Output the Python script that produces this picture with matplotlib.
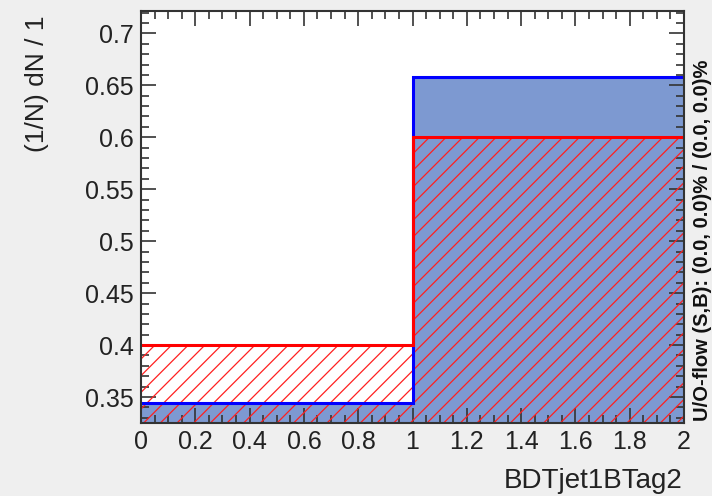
import matplotlib
matplotlib.use("Agg")
import matplotlib.pyplot as plt
from matplotlib.ticker import MultipleLocator

# histogram bins and normalised contents
bin_edges = [0.0, 1.0, 2.0]
signal = [0.344, 0.658]
background = [0.400, 0.600]

x_label = "BDTjet1BTag2"
y_label = "(1/N) dN / 1"
overflow_text = "U/O-flow (S,B): (0.0, 0.0)% / (0.0, 0.0)%"

plt.rcParams['font.family'] = ['Liberation Sans', 'DejaVu Sans']
plt.rcParams['hatch.linewidth'] = 0.9
plt.rcParams['hatch.color'] = '#ff2020'

fig = plt.figure(figsize=(7.12, 4.96), dpi=100, facecolor='#efefef')
ax = fig.add_axes([141 / 712, 1 - 423 / 496, (684 - 141) / 712, (423 - 11) / 496])
ax.set_facecolor('white')

# signal: filled blue
ax.stairs(signal, bin_edges, fill=True, color='#7d99d1', zorder=1)
# background: red hatch
ax.stairs(background, bin_edges, fill=True, facecolor='none', edgecolor='#ff2020',
          hatch='//', linewidth=0, zorder=2)
# outlines
ax.stairs(signal, bin_edges, baseline=None, color='blue', linewidth=2.2, zorder=3)
ax.stairs(background, bin_edges, baseline=None, color='red', linewidth=2.2, zorder=4)

ax.set_xlim(0, 2)
ax.set_ylim(0.325, 0.7215)

ax.xaxis.set_major_locator(MultipleLocator(0.2))
ax.xaxis.set_minor_locator(MultipleLocator(0.05))
ax.yaxis.set_major_locator(MultipleLocator(0.05))
ax.yaxis.set_minor_locator(MultipleLocator(0.01))
ax.xaxis.set_major_formatter(plt.FuncFormatter(lambda v, p: f"{v:g}"))
ax.yaxis.set_major_formatter(plt.FuncFormatter(lambda v, p: f"{v:g}"))

ax.tick_params(which='both', direction='in', top=True, right=True,
               color='#333333', labelcolor='#222222', labelsize=18, width=1.2)
ax.tick_params(which='major', length=10.5, pad=5)
ax.tick_params(which='minor', length=6)
for s in ax.spines.values():
    s.set_linewidth(1.5)
    s.set_color('#333333')
    s.set_zorder(5)

fig.text(683 / 712, 1 - 481 / 496, x_label, ha='right', va='center',
         fontsize=20, color='#222222')
fig.text(37 / 712, 1 - 16 / 496, y_label, ha='center', va='top', rotation=90,
         fontsize=19, color='#222222')
fig.text(693 / 712, 1 - 421 / 496, overflow_text, ha='left', va='bottom',
         rotation=90, fontsize=14.5, fontweight='bold', color='#111111')

fig.savefig("out.png", dpi=100, facecolor=fig.get_facecolor())
